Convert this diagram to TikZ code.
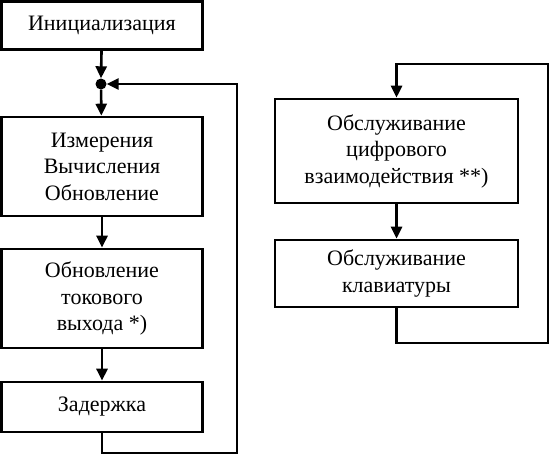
\documentclass[tikz,border=0pt]{standalone}
\usepackage{fontspec}
\setmainfont{Liberation Serif}
\usetikzlibrary{arrows.meta,positioning}

\tikzset{
	block/.style={draw, line width=2.6pt, align=center, inner sep=0pt,
		font=\fontsize{22}{26.5}\selectfont},
	flow/.style={line width=2.6pt, -{Triangle[length=12pt,width=11pt]}},
}

\begin{document}
\begin{tikzpicture}[x=1pt, y=-1pt]
	\newcommand{\leftWidth}{201pt}
	\newcommand{\rightWidth}{243pt}

	\useasboundingbox (0,0) rectangle (554,466);

	% left column
	\node[block, minimum width=\leftWidth, minimum height=48pt] (init) at (102,25.5) {Инициализация};
	\node[circle, fill, inner sep=0pt, minimum size=11pt] (junction) at (101,84) {};
	\node[block, minimum width=\leftWidth, minimum height=99pt] (measure) at (102,166.5)
		{Измерения\\Вычисления\\Обновление};
	\node[block, minimum width=\leftWidth, minimum height=99pt] (current) at (102,298.5)
		{Обновление\\токового\\выхода *)};
	\node[block, minimum width=\leftWidth, minimum height=50pt] (delay) at (102,407) {Задержка};

	% right column
	\node[block, minimum width=\rightWidth, minimum height=104pt] (digital) at (396.5,151)
		{Обслуживание\\цифрового\\взаимодействия **)};
	\node[block, minimum width=\rightWidth, minimum height=67pt] (keyboard) at (396.5,273.5)
		{Обслуживание\\клавиатуры};

	\coordinate (left_return) at (237,453);
	\coordinate (right_bottom) at (548,343);
	\coordinate (right_top) at (548,64);

	% main flow
	\draw[flow] (init) -- (junction.north);
	\draw[flow] (junction) -- (measure);
	\draw[flow] (measure) -- (current);
	\draw[flow] (current) -- (delay);
	\draw[flow] (delay.south) |- (left_return) |- (junction.east);

	% service loop
	\draw[flow] (digital) -- (keyboard);
	\draw[flow] (keyboard.south) |- (right_bottom) -- (right_top) -| (digital.north);
\end{tikzpicture}
\end{document}
